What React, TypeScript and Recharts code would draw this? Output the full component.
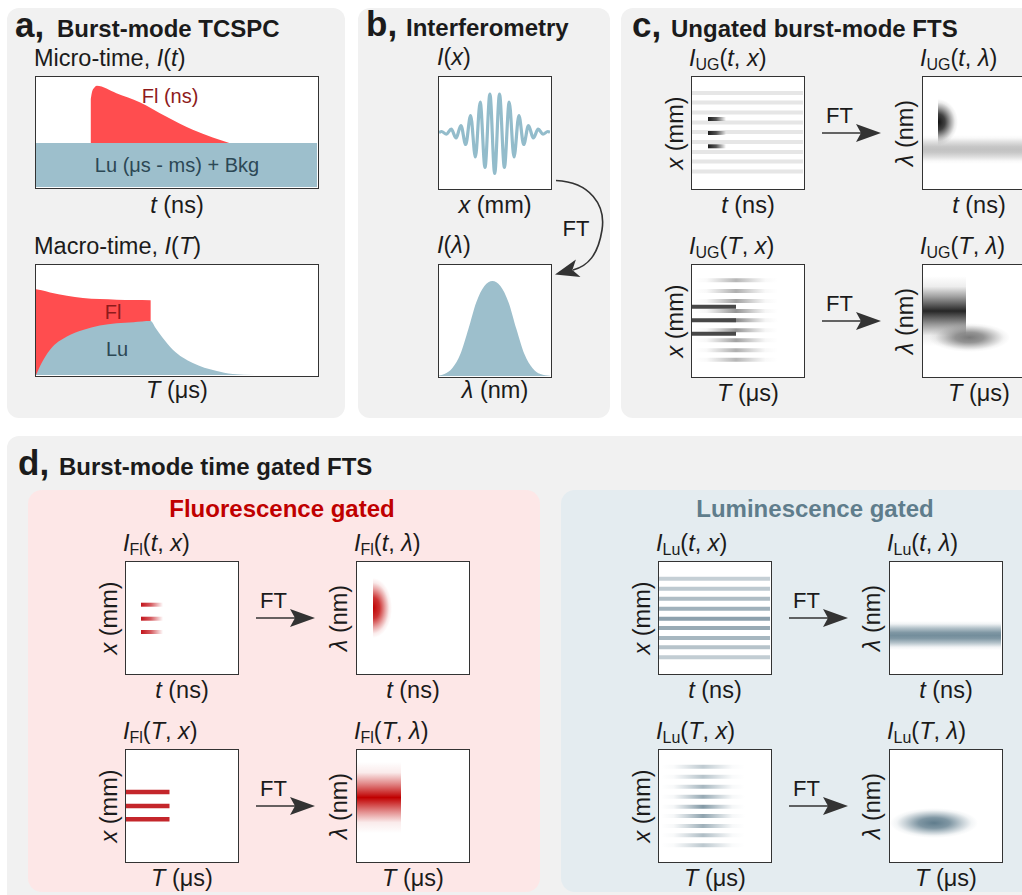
import React from 'react';
import { AreaChart, Area, LineChart, Line, ComposedChart, XAxis, YAxis, ReferenceArea } from 'recharts';

const FONT = '"Liberation Sans", Arial, Helvetica, sans-serif';
const INK = '#1b1b1b';
const RED = '#ff4d4f';
const BLUE = '#9dbfcc';
const LBL = 23.5;

// a) micro-time trace: t in % of window, intensity as fraction of the box height
const microT = [0, 19.5, 20, 20.8, 21.6, 28.6, 36.9, 46.3, 55.8, 62.9, 68.8, 100];
const microFl = [null, 0.8, 0.87, 0.905, 0.92, 0.853, 0.77, 0.64, 0.52, 0.45, 0.4, null];
const microLu = [0.4, 0.4, 0.4, 0.4, 0.4, 0.4, 0.4, 0.4, 0.4, 0.4, 0.4, 0.4];

// a) macro-time trace
const macroT = [0, 2, 5, 11, 16.7, 22.7, 28.7, 34.7, 40.8, 42.5, 45, 48.7, 55.8, 64, 70, 78, 100];
const macroFl = [0.78, 0.77, 0.75, 0.72, 0.7, 0.69, 0.685, 0.682, 0.68, null, null, null, null, null, null, null, null];
const macroLu = [0, 0.11, 0.23, 0.35, 0.41, 0.45, 0.47, 0.48, 0.49, 0.43, 0.34, 0.23, 0.11, 0.039, 0.009, 0, 0];

// b) interferogram (extrema) and spectrum, box units 0..111
const waveX = [0, 2.6, 7.4, 12.2, 17.1, 21.9, 26.7, 31.6, 36.4, 41.2, 46, 50.9, 55.7, 60.5, 65.4, 70.2, 75, 79.9, 84.7, 89.5, 94.3, 99.2, 104, 108.8, 111];
const waveY = [0, 1, -1.7, 3.3, -5.5, 7, -12, 17, -24.5, 30.5, -35, 38.5, -41, 38.5, -35, 30.5, -24.5, 17, -12, 7, -5.5, 3.3, -1.7, 1, 0];
const specX = [0, 5.4, 13.4, 21.4, 29.4, 37.4, 45.4, 53.4, 61.4, 69.4, 77.4, 85.4, 93.4, 101.4, 111];
const specY = [0.5, 2, 8, 22, 47, 74, 90, 95, 90, 74, 47, 22, 8, 2, 0.3];

// c/d) fringe positions along x (box units, from the bottom) and their weights
const ugFringeY = [95, 85.5, 75.5, 65.5, 56, 46, 36, 26.5, 16.5];
const slowFringeY = [95.7, 85, 75, 65, 55.7, 45.7, 35.7, 25.7, 16.3];
const slowFringeW = [0.55, 0.6, 0.7, 0.8, 0.9, 0.8, 0.7, 0.6, 0.55];
const luFringeY = [94.3, 84.3, 74.3, 64.3, 54.3, 45, 35, 25.7, 15.7];
const luFringeW = [0.4, 0.45, 0.55, 0.65, 0.78, 0.7, 0.6, 0.5, 0.42];
const fastBarY = [69, 55, 41.7];
const flFastY = [68.3, 54.3, 41];
const slowBarY = [69.3, 55.7, 42.3];

// time spans of the gated signals (box units)
const ugFastSpan = [16, 34];
const flFastSpan = [15, 37];
const slowBarSpan = [0, 44];
const luSlowSpan = [2, 86];

// spectra: [time from, time to, lambda from, lambda to] in box units
const ugFlSpot = [15, 55, 43, 89];
const ugLuBand = [0, 111, 24, 53];
const ugFlBand = [0, 43, 30, 100];
const ugLuSpot = [6, 87, 24, 53];
const flSpot = [16, 54, 35, 95];
const flBand = [0, 44, 28, 99];
const luBand = [0, 111, 23, 52];
const luSpot = [0, 88, 23, 53];

const microRows = microT.map((t, i) => ({ t, fl: microFl[i], lu: microLu[i] }));
const macroRows = macroT.map((t, i) => ({ t, fl: macroFl[i], lu: macroLu[i] }));
const waveRows = waveX.map((x, i) => ({ x, y: waveY[i] }));
const specRows = specX.map((x, i) => ({ x, y: specY[i] }));
const boxSpan = [{ u: 0 }, { u: 111 }];

const Tx = ({ x, y, s = LBL, a = 'start', c = INK, b = false, children }: any) => (
  <div
    style={{
      position: 'absolute', left: x, top: y - s * 0.85, fontSize: s, lineHeight: `${s}px`,
      fontWeight: b ? 700 : 400, color: c, whiteSpace: 'nowrap',
      transform: a === 'middle' ? 'translateX(-50%)' : undefined,
    }}
  >
    {children}
  </div>
);

const VTx = ({ cx, cy, s = LBL, children }: any) => (
  <div
    style={{
      position: 'absolute', left: cx, top: cy, fontSize: s, lineHeight: `${s}px`, whiteSpace: 'nowrap',
      transform: 'translate(-50%, -50%) rotate(-90deg)',
    }}
  >
    {children}
  </div>
);

const Sub = ({ children }: any) => (
  <span style={{ fontSize: '0.68em', position: 'relative', top: '0.28em' }}>{children}</span>
);

const Panel = ({ x, y, w, h, bg = '#f1f1f1', r = 12 }: any) => (
  <div style={{ position: 'absolute', left: x, top: y, width: w, height: h, background: bg, borderRadius: r }} />
);

const Frame = ({ x, y, w = 114, h = 114, children }: any) => (
  <div
    style={{
      position: 'absolute', left: x, top: y, width: w, height: h, border: '1.5px solid #333',
      boxSizing: 'border-box', background: '#fff', overflow: 'hidden',
    }}
  >
    {children}
  </div>
);

const MapBox = ({ x, y, children }: any) => (
  <Frame x={x} y={y}>
    <ComposedChart width={111} height={111} data={boxSpan} margin={{ top: 0, right: 0, bottom: 0, left: 0 }}>
      <XAxis type="number" dataKey="u" domain={[0, 111]} allowDataOverflow hide />
      <YAxis type="number" domain={[0, 111]} allowDataOverflow hide />
      {children}
    </ComposedChart>
  </Frame>
);

const stripes = (ys: number[], span: number[], h: number, fill: string, w?: number[]) =>
  ys.map((c, i) => (
    <ReferenceArea
      key={`${fill}-${i}`}
      x1={span[0]} x2={span[1]} y1={c - h / 2} y2={c + h / 2}
      fill={fill} fillOpacity={w ? w[i] : 1} stroke="none"
    />
  ));

const patch = (r: number[], fill: string) => (
  <ReferenceArea x1={r[0]} x2={r[1]} y1={r[2]} y2={r[3]} fill={fill} fillOpacity={1} stroke="none" />
);

const gaussStops = [[0, 0], [0.15, 0.08], [0.3, 0.45], [0.5, 1], [0.7, 0.45], [0.85, 0.08], [1, 0]];
const bandStops = [[0, 0], [0.1, 0.1], [0.25, 0.55], [0.4, 0.92], [0.5, 1], [0.6, 0.92], [0.75, 0.55], [0.9, 0.1], [1, 0]];
const blobStops = [[0, 1], [0.35, 0.8], [0.65, 0.35], [0.85, 0.08], [1, 0]];

const Defs = () => {
  const lin = (id: string, color: string, stops: number[][], vertical = false) => (
    <linearGradient id={id} x1="0" y1="0" x2={vertical ? '0' : '1'} y2={vertical ? '1' : '0'}>
      {stops.map(([o, a]) => <stop key={o} offset={o} stopColor={color} stopOpacity={a} />)}
    </linearGradient>
  );
  const rad = (id: string, color: string, cx: string) => (
    <radialGradient id={id} cx={cx} cy="0.5" r="0.5" fx={cx} fy="0.5">
      {blobStops.map(([o, a]) => <stop key={o} offset={o} stopColor={color} stopOpacity={a} />)}
    </radialGradient>
  );
  return (
    <svg width={0} height={0} style={{ position: 'absolute' }}>
      <defs>
        {lin('fadeDark', '#1c1c1c', [[0, 1], [0.45, 0.75], [1, 0]])}
        {lin('fadeRed', '#c3151c', [[0, 1], [0.45, 0.7], [1, 0]])}
        {lin('ghGrey', '#7a7a7a', gaussStops)}
        {lin('ghLu', '#5f7c8c', gaussStops)}
        {lin('gvGrey', '#c2c2c2', bandStops, true)}
        {lin('gvDark', '#262626', gaussStops, true)}
        {lin('gvRed', '#c00000', gaussStops, true)}
        {lin('gvLu', '#748e9c', bandStops, true)}
        {rad('hbDark', '#111111', '0')}
        {rad('hbRed', '#c00000', '0')}
        {rad('blobGrey', '#7a7a7a', '0.5')}
        {rad('blobLu', '#5f7c8c', '0.5')}
      </defs>
    </svg>
  );
};

const FTArrow = ({ x, y }: any) => (
  <>
    <svg style={{ position: 'absolute', left: x, top: y - 12, overflow: 'visible' }} width={60} height={24}>
      <line x1={0} y1={12} x2={40} y2={12} stroke="#333" strokeWidth={1.6} />
      <path d="M59 12 L34 3 L39 12 L34 21 Z" fill="#333" />
    </svg>
    <Tx x={x + 4} y={y - 9} s={22}>FT</Tx>
  </>
);

// one 2x2 block of maps (c and d share the same layout)
const Quad = ({ x0, y0, sub, maps }: any) => {
  const bx1 = x0;
  const bx2 = x0 + 231;
  return (
    <>
      {[0, 1].map((row) => {
        const top = y0 + row * 188;
        const tt = row === 0 ? 't' : 'T';
        const unit = row === 0 ? '(ns)' : '(μs)';
        return (
          <React.Fragment key={row}>
            <Tx x={bx1 - 2} y={top - 9}><i>I</i><Sub>{sub}</Sub>(<i>{tt}</i>, <i>x</i>)</Tx>
            <Tx x={bx2 - 2} y={top - 9}><i>I</i><Sub>{sub}</Sub>(<i>{tt}</i>, <i>λ</i>)</Tx>
            <VTx cx={bx1 - 15} cy={top + 57}><i>x</i> (mm)</VTx>
            <VTx cx={bx2 - 16} cy={top + 57}><i>λ</i> (nm)</VTx>
            <FTArrow x={bx1 + 131} y={top + 57} />
            <Tx x={bx1 + 57} y={top + 138} a="middle"><i>{tt}</i> {unit}</Tx>
            <Tx x={bx2 + 57} y={top + 138} a="middle"><i>{tt}</i> {unit}</Tx>
            <MapBox x={bx1} y={top}>{maps[row * 2]}</MapBox>
            <MapBox x={bx2} y={top}>{maps[row * 2 + 1]}</MapBox>
          </React.Fragment>
        );
      })}
    </>
  );
};

const TraceChart = ({ rows, xMax }: any) => (
  <AreaChart width={281} height={110} data={rows} margin={{ top: 0, right: 0, bottom: 0, left: 0 }}>
    <XAxis type="number" dataKey="t" domain={[0, xMax]} hide />
    <YAxis type="number" domain={[0, 1]} hide />
    <Area type="monotone" dataKey="fl" fill={RED} fillOpacity={1} stroke="none" connectNulls={false} isAnimationActive={false} />
    <Area type="monotone" dataKey="lu" fill={BLUE} fillOpacity={1} stroke="none" isAnimationActive={false} />
  </AreaChart>
);

export default function App() {
  const ugMaps = [
    <>{stripes(ugFringeY, [0, 111], 4, '#e6e6e6')}{stripes(fastBarY, ugFastSpan, 4, 'url(#fadeDark)')}</>,
    <>{patch(ugLuBand, 'url(#gvGrey)')}{patch(ugFlSpot, 'url(#hbDark)')}</>,
    <>{stripes(slowFringeY, luSlowSpan, 4, 'url(#ghGrey)', slowFringeW)}{stripes(slowBarY, slowBarSpan, 4, '#484848')}</>,
    <>{patch(ugFlBand, 'url(#gvDark)')}{patch(ugLuSpot, 'url(#blobGrey)')}</>,
  ];
  const flMaps = [
    <>{stripes(flFastY, flFastSpan, 4, 'url(#fadeRed)')}</>,
    <>{patch(flSpot, 'url(#hbRed)')}</>,
    <>{stripes(fastBarY, [0, 43.5], 4.5, '#c4262b')}</>,
    <>{patch(flBand, 'url(#gvRed)')}</>,
  ];
  const luMaps = [
    <>{stripes(luFringeY, [0, 111], 4, '#6d8796', luFringeW)}</>,
    <>{patch(luBand, 'url(#gvLu)')}</>,
    <>{stripes(luFringeY, luSlowSpan, 4, 'url(#ghLu)', luFringeW)}</>,
    <>{patch(luSpot, 'url(#blobLu)')}</>,
  ];

  return (
    <div
      style={{
        position: 'absolute', left: 0, top: 0, width: 1022, height: 895, overflow: 'hidden',
        background: '#fff', fontFamily: FONT, color: INK,
      }}
    >
      <Defs />
      <Panel x={7} y={8} w={338} h={410} />
      <Panel x={358} y={8} w={252} h={410} />
      <Panel x={621} y={8} w={430} h={410} />
      <Panel x={7} y={436} w={1040} h={480} />
      <Panel x={28} y={490} w={512} h={402} bg="#fde7e7" r={14} />
      <Panel x={561} y={490} w={520} h={402} bg="#e4ecf0" r={14} />

      {/* a */}
      <Tx x={15} y={37} s={35} b>a,</Tx>
      <Tx x={57} y={37} s={24} b>Burst-mode TCSPC</Tx>
      <Tx x={34} y={67}>Micro-time, <i>I</i>(<i>t</i>)</Tx>
      <Frame x={35} y={76} w={284} h={113}>
        <TraceChart rows={microRows} xMax={100} />
      </Frame>
      <Tx x={170} y={103} s={20} a="middle" c="#8e1b1b">Fl (ns)</Tx>
      <Tx x={177} y={172} s={20} a="middle" c="#2c4855">Lu (μs - ms) + Bkg</Tx>
      <Tx x={177} y={214} a="middle"><i>t</i> (ns)</Tx>
      <Tx x={34} y={255}>Macro-time, <i>I</i>(<i>T</i>)</Tx>
      <Frame x={35} y={264} w={284} h={113}>
        <TraceChart rows={macroRows} xMax={100} />
      </Frame>
      <Tx x={113} y={319} s={20} a="middle" c="#8e1b1b">Fl</Tx>
      <Tx x={117} y={356} s={20} a="middle" c="#2c4855">Lu</Tx>
      <Tx x={177} y={399} a="middle"><i>T</i> (μs)</Tx>

      {/* b */}
      <Tx x={366} y={36} s={35} b>b,</Tx>
      <Tx x={406} y={36} s={24} b>Interferometry</Tx>
      <Tx x={437} y={66}><i>I</i>(<i>x</i>)</Tx>
      <Frame x={438} y={76}>
        <LineChart width={111} height={111} data={waveRows} margin={{ top: 0, right: 0, bottom: 0, left: 0 }}>
          <XAxis type="number" dataKey="x" domain={[0, 111]} hide />
          <YAxis type="number" domain={[-55.5, 55.5]} hide />
          <Line type="monotone" dataKey="y" stroke="#93bccb" strokeWidth={3.2} dot={false} isAnimationActive={false} />
        </LineChart>
      </Frame>
      <Tx x={495} y={214} a="middle"><i>x</i> (mm)</Tx>
      <svg style={{ position: 'absolute', left: 0, top: 0, overflow: 'visible' }} width={1} height={1}>
        <path d="M556 180.5 C590 182, 606 205, 602 230 C598 255, 588 266, 573 270" fill="none" stroke="#333" strokeWidth={1.6} />
        <path d="M555 274.5 L575.9 259.6 L572.4 269.9 L580.5 277 Z" fill="#333" />
      </svg>
      <Tx x={576} y={237} s={22} a="middle">FT</Tx>
      <Tx x={437} y={254}><i>I</i>(<i>λ</i>)</Tx>
      <Frame x={438} y={264}>
        <AreaChart width={111} height={111} data={specRows} margin={{ top: 0, right: 0, bottom: 0, left: 0 }}>
          <XAxis type="number" dataKey="x" domain={[0, 111]} hide />
          <YAxis type="number" domain={[0, 111]} hide />
          <Area type="monotone" dataKey="y" fill={BLUE} fillOpacity={1} stroke="none" isAnimationActive={false} />
        </AreaChart>
      </Frame>
      <Tx x={495} y={399} a="middle"><i>λ</i> (nm)</Tx>

      {/* c */}
      <Tx x={632} y={37} s={35} b>c,</Tx>
      <Tx x={671} y={37} s={24} b>Ungated burst-mode FTS</Tx>
      <Quad x0={691} y0={76} sub="UG" maps={ugMaps} />

      {/* d */}
      <Tx x={18} y={475} s={35} b>d,</Tx>
      <Tx x={59} y={475} s={24} b>Burst-mode time gated FTS</Tx>
      <Tx x={282} y={517} s={24} b a="middle" c="#c00000">Fluorescence gated</Tx>
      <Tx x={815} y={517} s={24} b a="middle" c="#5f7d8c">Luminescence gated</Tx>
      <Quad x0={125} y0={561} sub="Fl" maps={flMaps} />
      <Quad x0={658} y0={561} sub="Lu" maps={luMaps} />
    </div>
  );
}
